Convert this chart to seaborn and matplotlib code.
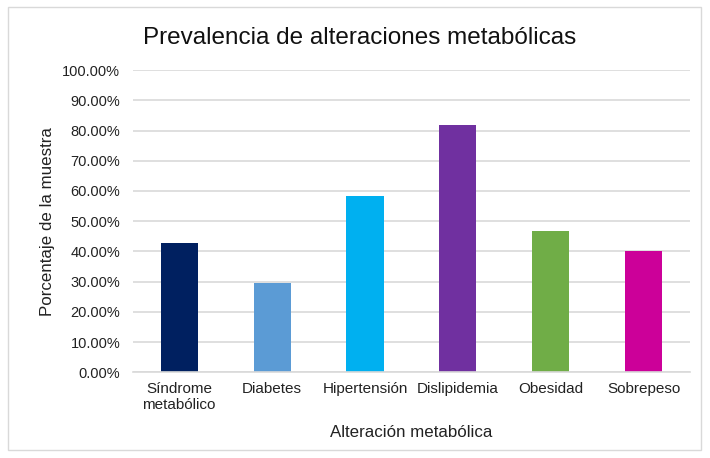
import matplotlib
matplotlib.use("Agg")
import matplotlib.pyplot as plt
from matplotlib.patches import Rectangle
from matplotlib.ticker import PercentFormatter
import seaborn as sns
import pandas as pd

categorias = ["Síndrome\nmetabólico", "Diabetes", "Hipertensión",
              "Dislipidemia", "Obesidad", "Sobrepeso"]
prevalencia = [42.7, 29.5, 58.4, 81.8, 46.8, 40.2]
colores = ["#002060", "#5B9BD5", "#00B0F0", "#7030A0", "#70AD47", "#CC0099"]
ticks_y = [0, 10, 20, 30, 40, 50, 60, 70, 80, 90, 100]

df = pd.DataFrame({"categoria": categorias, "valor": prevalencia})

sns.set_theme(style="white")
plt.rcParams["font.family"] = ["Liberation Sans", "DejaVu Sans"]

fig = plt.figure(figsize=(7.10, 4.58), dpi=100)
ax = fig.add_axes([0.187, 0.187, 0.785, 0.66])

sns.barplot(data=df, x="categoria", y="valor", hue="categoria",
            palette=colores, legend=False, width=0.4, ax=ax,
            edgecolor="none", saturation=1)

ax.set_ylim(0, 100)
ax.set_yticks(ticks_y)
ax.yaxis.set_major_formatter(PercentFormatter(decimals=2))
ax.grid(axis="y", color="#D9D9D9", linewidth=1.2)
ax.set_axisbelow(True)
for s in ["top", "right", "left"]:
    ax.spines[s].set_visible(False)
ax.spines["bottom"].set_color("#D9D9D9")
ax.spines["bottom"].set_linewidth(1.2)
ax.tick_params(axis="y", length=0, labelsize=10.5, colors="#222222", pad=9)
ax.tick_params(axis="x", length=0, labelsize=11, colors="#222222", pad=7)

ax.set_xlabel("Alteración metabólica", fontsize=12.2, color="#222222", labelpad=9)
ax.set_ylabel("Porcentaje de la muestra", fontsize=12.2, color="#222222", labelpad=5)

fig.text(0.507, 0.918, "Prevalencia de alteraciones metabólicas",
         ha="center", va="center", fontsize=17.5, color="#111111")

fig.patches.append(Rectangle((8 / 710, 1 - 450 / 458), 693 / 710, 443 / 458,
                             transform=fig.transFigure, fill=False,
                             edgecolor="#D9D9D9", linewidth=1.0))

fig.savefig("out.png", dpi=100)
